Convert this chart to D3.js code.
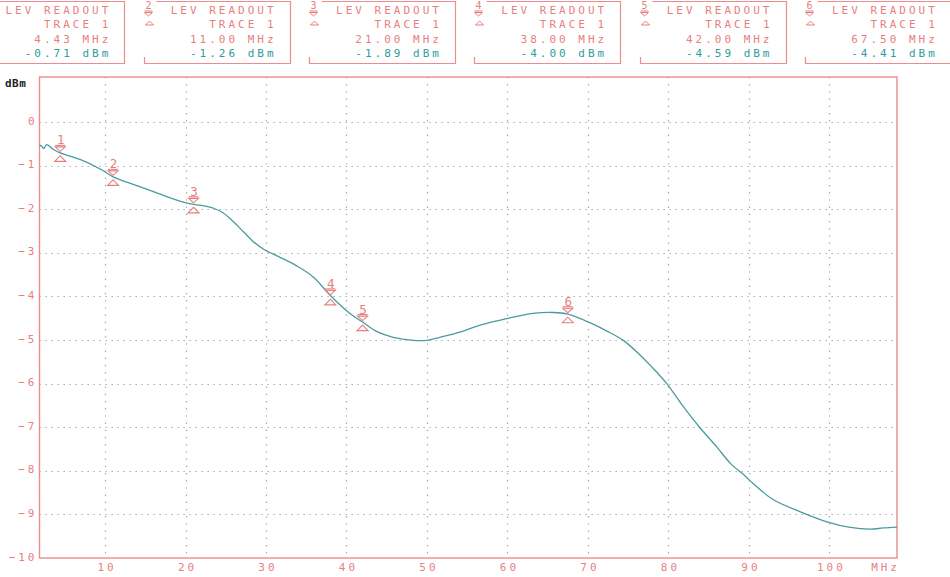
<!DOCTYPE html>
<html><head><meta charset="utf-8">
<script src="https://cdn.jsdelivr.net/npm/d3@7"></script>
<style>
html,body{margin:0;padding:0;background:#fff;}
svg{display:block;}
text{font-family:"DejaVu Sans Mono","Liberation Mono",monospace;}
</style></head>
<body>
<svg id="chart" width="950" height="577"></svg>
<script>
// ---- data ----
const traceFreq = [1.86, 2.1, 2.4, 2.75, 3.5, 4.43, 5.03, 6.9, 9.4, 11, 12.7, 14.4, 17.2, 19.4, 21, 21.8, 23.5, 24.7, 25.9, 27.2, 28.4, 29.7, 31.7, 33.8, 35.9, 38, 40.4, 42, 43.8, 45.8, 48.3, 50, 51.6, 54.1, 56.6, 59.9, 63.2, 65.7, 67.5, 70.3, 72.3, 74.4, 76.5, 78.5, 79.8, 81.9, 84, 86, 87.7, 89.3, 90.1, 93, 96.4, 99.7, 102.6, 105.1, 106.7, 108.4];
const traceLevel = [-0.53, -0.55, -0.61, -0.52, -0.62, -0.71, -0.75, -0.86, -1.08, -1.26, -1.38, -1.49, -1.68, -1.82, -1.89, -1.91, -1.98, -2.09, -2.28, -2.52, -2.74, -2.92, -3.10, -3.30, -3.56, -3.98, -4.39, -4.59, -4.81, -4.94, -5.01, -5.01, -4.94, -4.82, -4.66, -4.51, -4.39, -4.37, -4.41, -4.61, -4.79, -5.01, -5.35, -5.73, -6.00, -6.54, -7.03, -7.45, -7.83, -8.08, -8.22, -8.66, -8.94, -9.17, -9.30, -9.34, -9.31, -9.29];
const markerNum = [1, 2, 3, 4, 5, 6];
const markerFreq = [4.43, 11.00, 21.00, 38.00, 42.00, 67.50];
const markerLevel = [-0.71, -1.26, -1.89, -4.00, -4.59, -4.41];
const yTicks = [0, -1, -2, -3, -4, -5, -6, -7, -8, -9, -10];
const xTicks = [10, 20, 30, 40, 50, 60, 70, 80, 90, 100];
const xDomain = [1.86, 108.4];
const yDomain = [-10, 1.03];

// ---- style ----
const SALMON = "#e77f7f", SALMON_LINE = "#ec8c8c", TEAL = "#2f9b9b", TRACE = "#4a9ba0", GRID = "#9a9a9a";
const FS = "11px", LS = "3px";

const svg = d3.select("#chart");
const L = 39.5, R = 897, T = 77, B = 558;
const x = d3.scaleLinear().domain(xDomain).range([L, R]);
const y = d3.scaleLinear().domain(yDomain).range([B, T]);

// grid
const gGrid = svg.append("g");
gGrid.selectAll("line.h").data(yTicks.filter(d => d > -10)).join("line")
  .attr("x1", L).attr("x2", R).attr("y1", d => Math.round(y(d)) + 0.5).attr("y2", d => Math.round(y(d)) + 0.5)
  .attr("stroke", GRID).attr("stroke-width", 1.2).attr("stroke-dasharray", "1.2,4.8");
gGrid.selectAll("line.v").data(xTicks).join("line")
  .attr("y1", T).attr("y2", B).attr("x1", d => Math.round(x(d)) + 0.5).attr("x2", d => Math.round(x(d)) + 0.5)
  .attr("stroke", GRID).attr("stroke-width", 1.2).attr("stroke-dasharray", "1.2,6");

// axes
const yAxis = d3.axisLeft(y).tickValues(yTicks).tickSize(0).tickPadding(2).tickFormat(d3.format("d"));
const gy = svg.append("g").attr("transform", `translate(${L},0)`).call(yAxis);
gy.select(".domain").remove();
gy.selectAll("text").attr("fill", SALMON).style("font-size", FS).style("letter-spacing", LS).attr("dy", "0.2em");

const xAxis = d3.axisBottom(x).tickValues(xTicks).tickSize(0).tickPadding(5).tickFormat(d3.format("d"));
const gx = svg.append("g").attr("transform", `translate(0,${B})`).call(xAxis);
gx.select(".domain").remove();
gx.selectAll("text").attr("fill", SALMON).style("font-size", FS).style("letter-spacing", LS).attr("dx", "1.5");

svg.append("text").attr("x", R + 3).attr("y", 571).attr("text-anchor", "end")
  .attr("fill", SALMON).style("font-size", FS).style("letter-spacing", LS).text("MHz");

// frame
svg.append("rect").attr("x", L).attr("y", T).attr("width", R - L).attr("height", B - T)
  .attr("fill", "none").attr("stroke", SALMON_LINE).attr("stroke-width", 1.4);

// y unit label
svg.append("text").attr("x", 5).attr("y", 86.5).attr("fill", "#222")
  .style("font-size", "11px").style("font-weight", "bold").style("letter-spacing", "0.5px").text("dBm");

// trace
const pts = traceFreq.map((f, i) => [f, traceLevel[i]]);
svg.append("path").datum(pts)
  .attr("d", d3.line().x(d => x(d[0])).y(d => y(d[1])).curve(d3.curveCatmullRom.alpha(0.5)))
  .attr("fill", "none").attr("stroke", TRACE).attr("stroke-width", 1.3);

// markers on plot
function markerSymbol(g, cx, cy, num) {
  g.append("text").attr("x", cx + 0.5).attr("y", cy - 8.5).attr("text-anchor", "middle")
    .attr("fill", SALMON).style("font-size", "12.5px").text(num);
  g.append("line").attr("x1", cx - 5).attr("x2", cx + 5).attr("y1", cy - 7.5).attr("y2", cy - 7.5)
    .attr("stroke", SALMON).attr("stroke-width", 1.1);
  g.append("path").attr("d", `M${cx - 5},${cy - 6}L${cx + 5},${cy - 6}L${cx},${cy - 1.5}Z`)
    .attr("fill", "none").attr("stroke", SALMON).attr("stroke-width", 1.1);
  g.append("path").attr("d", `M${cx - 5.5},${cy + 8.5}L${cx + 5.5},${cy + 8.5}L${cx},${cy + 3}Z`)
    .attr("fill", "none").attr("stroke", SALMON).attr("stroke-width", 1.1);
}
const gm = svg.append("g");
markerNum.forEach((n, i) => markerSymbol(gm, x(markerFreq[i]), y(markerLevel[i]), n));

// header readout boxes
const gh = svg.append("g");
markerNum.forEach((n, i) => {
  const textEnd = 108.3 + 165.3 * i;
  const right = Math.round(textEnd + 16) + 0.5;
  const left = right - 146;
  const g = gh.append("g");
  g.append("path").attr("d", `M${Math.max(left + 12, 0)},1.5H${right}V63.5H${Math.max(left, 0)}${left >= 0 ? "V57" : ""}`)
    .attr("fill", "none").attr("stroke", SALMON_LINE).attr("stroke-width", 1.2);
  if (left >= 0) {
    // marker symbol in header
    g.append("text").attr("x", left + 4).attr("y", 9).attr("text-anchor", "middle")
      .attr("fill", SALMON).style("font-size", "10px").text(n);
    g.append("line").attr("x1", left).attr("x2", left + 8).attr("y1", 11).attr("y2", 11)
      .attr("stroke", SALMON).attr("stroke-width", 1);
    g.append("path").attr("d", `M${left},12.5L${left + 8},12.5L${left + 4},16Z`)
      .attr("fill", "none").attr("stroke", SALMON).attr("stroke-width", 1);
    g.append("path").attr("d", `M${left + 1},25L${left + 9},25L${left + 5},21Z`)
      .attr("fill", "none").attr("stroke", SALMON).attr("stroke-width", 1);
  }
  const tx = textEnd + 3;
  const lines = [
    ["LEV READOUT", SALMON, 14],
    ["TRACE 1", SALMON, 28.3],
    [markerFreq[i].toFixed(2) + " MHz", SALMON, 43],
    [markerLevel[i].toFixed(2) + " dBm", TEAL, 57.3]
  ];
  lines.forEach(([t, c, yy]) => {
    g.append("text").attr("x", tx).attr("y", yy).attr("text-anchor", "end")
      .attr("fill", c).style("font-size", FS).style("letter-spacing", LS).text(t);
  });
});
</script>
</body></html>
